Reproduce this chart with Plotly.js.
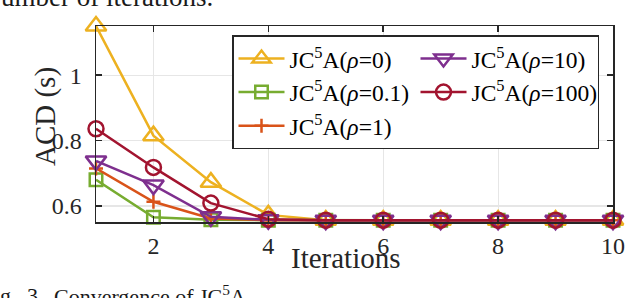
<!DOCTYPE html>
<html>
<head>
<meta charset="utf-8">
<script src="https://cdn.plot.ly/plotly-3.0.1.min.js"></script>
<style>
html,body{margin:0;padding:0;background:#fff;}
#chart{width:628px;height:298px;}
</style>
</head>
<body>
<div id="chart"></div>
<script>
// ---- data ----
const iterations = [1, 2, 3, 4, 5, 6, 7, 8, 9, 10];
const acdRho0   = [1.150, 0.815, 0.673, 0.573, 0.557, 0.557, 0.557, 0.557, 0.557, 0.557];
const acdRho01  = [0.680, 0.566, 0.558, 0.557, 0.557, 0.557, 0.557, 0.557, 0.557, 0.557];
const acdRho1   = [0.715, 0.613, 0.562, 0.557, 0.557, 0.557, 0.557, 0.557, 0.557, 0.557];
const acdRho10  = [0.738, 0.664, 0.567, 0.558, 0.557, 0.557, 0.557, 0.557, 0.557, 0.557];
const acdRho100 = [0.836, 0.718, 0.609, 0.560, 0.557, 0.557, 0.557, 0.557, 0.557, 0.557];
const seriesNames = ['JC<sup>5</sup>A(<i>ρ</i>=0)', 'JC<sup>5</sup>A(<i>ρ</i>=0.1)', 'JC<sup>5</sup>A(<i>ρ</i>=1)',
                     'JC<sup>5</sup>A(<i>ρ</i>=10)', 'JC<sup>5</sup>A(<i>ρ</i>=100)'];
const xTickVals = [2, 4, 6, 8, 10];
const yTickVals = [0.6, 0.8, 1];
const yTickText = ['0.6', '0.8', '1'];

// ---- styles ----
const colors  = ['#EDB120', '#77AC30', '#D95319', '#7E2F8E', '#A2142F'];
const symbols = ['triangle-up-open', 'square-open', 'cross-thin-open', 'triangle-down-open', 'circle-open'];
const sizes   = [18, 12.5, 10, 18, 15];
const ranks   = [1, 3, 5, 2, 4];
const seriesY = [acdRho0, acdRho01, acdRho1, acdRho10, acdRho100];

const FONT = 'Liberation Serif';
const TXT = '#262626';

const traces = seriesY.map((ys, i) => ({
  x: iterations, y: ys, type: 'scatter', mode: 'lines+markers',
  name: seriesNames[i], legendrank: ranks[i],
  cliponaxis: false,
  line: {color: colors[i], width: 2.5},
  marker: {symbol: symbols[i], size: sizes[i], color: colors[i], line: {color: colors[i], width: 2.5}}
}));

// pixel helpers for annotation placement
const L = 96, R = 15, T = 25.7, B = 75.7, W = 628, H = 298;
const pw = W - L - R, ph = H - T - B;
const px = v => (v - L) / pw;
const py = v => (H - B - v) / ph;

const tickFont = {family: FONT, size: 24, color: TXT};

const layout = {
  width: W, height: H,
  margin: {l: L, r: R, t: T, b: B, pad: 0},
  paper_bgcolor: '#fff', plot_bgcolor: '#fff',
  font: {family: FONT, size: 24, color: TXT},
  showlegend: true,
  legend: {
    orientation: 'h', x: px(232), y: py(35), xanchor: 'left', yanchor: 'top',
    xref: 'paper', yref: 'paper',
    bgcolor: '#fff', bordercolor: '#262626', borderwidth: 1.5,
    font: {family: FONT, size: 23.5, color: '#000'},
    itemwidth: 46, entrywidth: 121, entrywidthmode: 'pixels',
    traceorder: 'normal', itemclick: false
  },
  xaxis: {
    range: [1, 10], tickmode: 'array', tickvals: xTickVals, ticktext: xTickVals.map(String),
    ticks: 'inside', ticklen: 6, tickwidth: 1.5, tickcolor: '#262626',
    showline: true, linecolor: '#262626', linewidth: 1.5, mirror: 'ticks',
    showgrid: true, gridcolor: '#e6e6e6', gridwidth: 1.2, zeroline: false,
    tickfont: tickFont, ticklabelstandoff: 2
  },
  yaxis: {
    range: [0.5513, 1.150], tickmode: 'array', tickvals: yTickVals, ticktext: yTickText,
    ticks: 'inside', ticklen: 6, tickwidth: 1.5, tickcolor: '#262626',
    showline: true, linecolor: '#262626', linewidth: 1.5, mirror: 'ticks',
    showgrid: true, gridcolor: '#e6e6e6', gridwidth: 1.2, zeroline: false,
    tickfont: tickFont, ticklabelstandoff: 8
  },
  annotations: [
    {text: 'Iterations', xref: 'paper', yref: 'paper', x: px(346), y: py(258),
     xanchor: 'center', yanchor: 'middle', showarrow: false,
     font: {family: FONT, size: 29, color: TXT}},
    {text: 'ACD (s)', xref: 'paper', yref: 'paper', x: px(45), y: py(117),
     xanchor: 'center', yanchor: 'middle', textangle: -90, showarrow: false,
     font: {family: FONT, size: 29, color: TXT}},
    {text: 'umber of iterations.', xref: 'paper', yref: 'paper', x: px(-1), y: py(-3),
     xanchor: 'left', yanchor: 'middle', showarrow: false,
     font: {family: FONT, size: 27, color: '#1a1a1a'}},
    {text: 'g.', xref: 'paper', yref: 'paper', x: px(-2), y: py(296),
     xanchor: 'left', yanchor: 'middle', showarrow: false,
     font: {family: FONT, size: 22, color: '#1a1a1a'}},
    {text: '3.', xref: 'paper', yref: 'paper', x: px(25), y: py(296),
     xanchor: 'left', yanchor: 'middle', showarrow: false,
     font: {family: FONT, size: 22, color: '#1a1a1a'}},
    {text: 'Convergence of JC<sup>5</sup>A.', xref: 'paper', yref: 'paper', x: px(52), y: py(296),
     xanchor: 'left', yanchor: 'middle', showarrow: false,
     font: {family: FONT, size: 22, color: '#1a1a1a'}}
  ]
};

Plotly.newPlot('chart', traces, layout, {staticPlot: true, displayModeBar: false});
</script>
</body>
</html>
